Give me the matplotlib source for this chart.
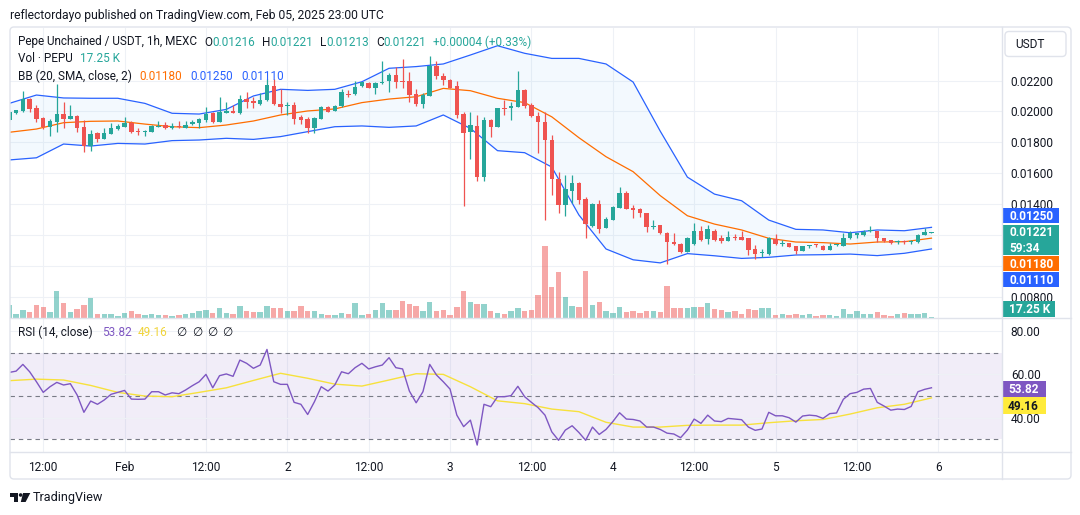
import numpy as np
import pandas as pd
import matplotlib
matplotlib.use("Agg")
import matplotlib.pyplot as plt
from matplotlib.patches import Rectangle, FancyBboxPatch, Polygon, Circle
from matplotlib.transforms import IdentityTransform
from matplotlib.lines import Line2D

plt.rcParams['font.family'] = ['Roboto', 'DejaVu Sans']

# ---------------- data (PEPU/USDT 1h, MEXC) ----------------
start_time = "2025-01-31 07:00"

opens = [0.01944, 0.01988, 0.02005, 0.02078, 0.02020, 0.01955, 0.01901, 0.01934, 0.01983, 0.01951,
         0.01970, 0.01897, 0.01776, 0.01858, 0.01821, 0.01854, 0.01886, 0.01901, 0.01927, 0.01873,
         0.01867, 0.01869, 0.01903, 0.01910, 0.01890, 0.01903, 0.01895, 0.01916, 0.01927, 0.01944,
         0.01992, 0.01934, 0.01992, 0.02005, 0.01988, 0.02080, 0.02069, 0.02048, 0.02074, 0.02167,
         0.02048, 0.02039, 0.02041, 0.01962, 0.01951, 0.01890, 0.01951, 0.02026, 0.02005, 0.02037,
         0.02113, 0.02110, 0.02166, 0.02186, 0.02154, 0.02184, 0.02197, 0.02235, 0.02197, 0.02197,
         0.02113, 0.02048, 0.02102, 0.02294, 0.02231, 0.02203, 0.02164, 0.01983, 0.01869, 0.01906,
         0.01578, 0.01944, 0.01901, 0.02020, 0.02020, 0.02031, 0.02138, 0.02041, 0.01970, 0.01934,
         0.01815, 0.01560, 0.01394, 0.01487, 0.01539, 0.01432, 0.01260, 0.01400, 0.01248, 0.01300,
         0.01375, 0.01472, 0.01373, 0.01367, 0.01340, 0.01251, 0.01265, 0.01216, 0.01154, 0.01142,
         0.01093, 0.01140, 0.01228, 0.01172, 0.01228, 0.01183, 0.01164, 0.01187, 0.01190, 0.01179,
         0.01110, 0.01084, 0.01077, 0.01175, 0.01144, 0.01146, 0.01129, 0.01097, 0.01131, 0.01138,
         0.01132, 0.01103, 0.01134, 0.01131, 0.01179, 0.01205, 0.01200, 0.01226, 0.01226, 0.01179,
         0.01168, 0.01155, 0.01159, 0.01155, 0.01153, 0.01200, 0.01216]

highs = [0.02005, 0.02012, 0.02132, 0.02085, 0.02041, 0.01962, 0.01951, 0.02175, 0.02063, 0.02041,
         0.01977, 0.01944, 0.01880, 0.01869, 0.01890, 0.01927, 0.01918, 0.01962, 0.01940, 0.01890,
         0.01880, 0.01912, 0.01938, 0.01934, 0.01923, 0.01938, 0.01938, 0.01944, 0.01955, 0.02031,
         0.01998, 0.02095, 0.02063, 0.02041, 0.02106, 0.02123, 0.02091, 0.02117, 0.02207, 0.02207,
         0.02143, 0.02063, 0.02063, 0.01977, 0.01962, 0.01966, 0.02035, 0.02035, 0.02041, 0.02145,
         0.02138, 0.02199, 0.02192, 0.02190, 0.02190, 0.02326, 0.02251, 0.02290, 0.02339, 0.02257,
         0.02143, 0.02117, 0.02358, 0.02328, 0.02251, 0.02207, 0.02197, 0.01998, 0.01998, 0.01977,
         0.01962, 0.01950, 0.02024, 0.02074, 0.02063, 0.02261, 0.02145, 0.02052, 0.01998, 0.01998,
         0.01847, 0.01610, 0.01590, 0.01589, 0.01545, 0.01444, 0.01405, 0.01427, 0.01320, 0.01388,
         0.01511, 0.01482, 0.01394, 0.01373, 0.01345, 0.01297, 0.01268, 0.01219, 0.01211, 0.01146,
         0.01190, 0.01276, 0.01259, 0.01265, 0.01237, 0.01200, 0.01226, 0.01205, 0.01226, 0.01183,
         0.01136, 0.01108, 0.01190, 0.01205, 0.01168, 0.01149, 0.01131, 0.01131, 0.01136, 0.01144,
         0.01134, 0.01146, 0.01142, 0.01211, 0.01226, 0.01216, 0.01233, 0.01261, 0.01229, 0.01183,
         0.01170, 0.01166, 0.01166, 0.01168, 0.01207, 0.01244, 0.01221]

lows = [0.01940, 0.01985, 0.01998, 0.01994, 0.01934, 0.01886, 0.01841, 0.01869, 0.01890, 0.01949,
        0.01869, 0.01740, 0.01746, 0.01800, 0.01819, 0.01852, 0.01880, 0.01900, 0.01862, 0.01847,
        0.01841, 0.01866, 0.01901, 0.01886, 0.01886, 0.01895, 0.01890, 0.01912, 0.01890, 0.01934,
        0.01927, 0.01934, 0.01988, 0.01988, 0.01983, 0.02020, 0.02020, 0.02041, 0.02069, 0.02041,
        0.01992, 0.01977, 0.01918, 0.01918, 0.01862, 0.01862, 0.01949, 0.01994, 0.02001, 0.02031,
        0.02095, 0.02106, 0.02160, 0.02150, 0.02110, 0.02180, 0.02128, 0.02149, 0.02149, 0.02063,
        0.02035, 0.02024, 0.02100, 0.02207, 0.02171, 0.02150, 0.01959, 0.01390, 0.01692, 0.01552,
        0.01552, 0.01832, 0.01897, 0.01977, 0.01944, 0.02028, 0.02024, 0.01962, 0.01729, 0.01297,
        0.01459, 0.01340, 0.01325, 0.01405, 0.01402, 0.01183, 0.01255, 0.01211, 0.01243, 0.01295,
        0.01372, 0.01367, 0.01308, 0.01320, 0.01222, 0.01241, 0.01205, 0.01013, 0.01133, 0.01082,
        0.01088, 0.01136, 0.01160, 0.01140, 0.01163, 0.01146, 0.01162, 0.01168, 0.01166, 0.01071,
        0.01045, 0.01060, 0.01071, 0.01136, 0.01131, 0.01121, 0.01077, 0.01095, 0.01114, 0.01125,
        0.01101, 0.01101, 0.01131, 0.01129, 0.01175, 0.01183, 0.01196, 0.01222, 0.01157, 0.01157,
        0.01144, 0.01142, 0.01144, 0.01144, 0.01149, 0.01198, 0.01213]

closes = [0.01998, 0.02009, 0.02078, 0.02016, 0.01953, 0.01901, 0.01938, 0.01983, 0.01953, 0.01970,
          0.01895, 0.01776, 0.01854, 0.01821, 0.01862, 0.01890, 0.01908, 0.01927, 0.01869, 0.01869,
          0.01871, 0.01908, 0.01906, 0.01890, 0.01906, 0.01899, 0.01912, 0.01934, 0.01949, 0.01983,
          0.01934, 0.01998, 0.02005, 0.01992, 0.02080, 0.02059, 0.02052, 0.02074, 0.02171, 0.02046,
          0.02031, 0.02043, 0.01951, 0.01944, 0.01890, 0.01955, 0.02026, 0.01998, 0.02037, 0.02123,
          0.02108, 0.02160, 0.02188, 0.02154, 0.02186, 0.02188, 0.02235, 0.02192, 0.02192, 0.02106,
          0.02048, 0.02106, 0.02294, 0.02231, 0.02203, 0.02154, 0.01977, 0.01862, 0.01912, 0.01578,
          0.01944, 0.01897, 0.02020, 0.02016, 0.02035, 0.02138, 0.02037, 0.01970, 0.01934, 0.01815,
          0.01560, 0.01394, 0.01497, 0.01539, 0.01427, 0.01269, 0.01400, 0.01241, 0.01304, 0.01381,
          0.01472, 0.01371, 0.01362, 0.01340, 0.01250, 0.01255, 0.01213, 0.01152, 0.01139, 0.01093,
          0.01183, 0.01228, 0.01170, 0.01236, 0.01168, 0.01164, 0.01190, 0.01183, 0.01168, 0.01103,
          0.01077, 0.01088, 0.01179, 0.01140, 0.01148, 0.01125, 0.01097, 0.01129, 0.01134, 0.01134,
          0.01103, 0.01132, 0.01138, 0.01179, 0.01211, 0.01209, 0.01222, 0.01229, 0.01179, 0.01162,
          0.01146, 0.01159, 0.01155, 0.01159, 0.01200, 0.01217, 0.01221]

volumes_k = [160, 48, 100, 68, 160, 128, 76, 328, 176, 68,
             112, 160, 236, 48, 48, 48, 28, 60, 88, 48,
             40, 48, 40, 40, 28, 40, 48, 56, 88, 96,
             60, 116, 60, 48, 144, 88, 68, 68, 144, 120,
             120, 80, 80, 144, 88, 80, 48, 40, 40, 64,
             48, 180, 40, 48, 96, 176, 96, 96, 208, 168,
             148, 80, 196, 80, 96, 40, 136, 328, 196, 168,
             168, 88, 64, 48, 80, 116, 80, 96, 280, 868,
             376, 548, 248, 148, 128, 568, 160, 188, 80, 56,
             136, 68, 80, 56, 84, 84, 72, 384, 120, 120,
             120, 132, 132, 180, 108, 96, 72, 84, 48, 108,
             96, 120, 120, 36, 48, 36, 48, 36, 48, 24,
             36, 36, 24, 108, 48, 84, 48, 48, 72, 36,
             24, 48, 60, 48, 48, 60, 17.25]

rsi_values = [60.9, 61.5, 64.6, 61.2, 56.6, 51.7, 54.3, 56.3, 55.1, 55.7,
              50.5, 42.5, 47.7, 46.2, 48.2, 50.8, 51.7, 52.6, 48.6, 48.5,
              48.6, 52.0, 52.0, 50.5, 51.5, 51.1, 52.8, 54.8, 56.6, 60.0,
              53.8, 59.4, 60.2, 59.1, 66.6, 65.1, 62.8, 64.3, 71.5, 56.6,
              55.4, 55.4, 47.1, 46.2, 41.5, 47.4, 54.3, 52.3, 55.1, 61.2,
              60.3, 63.1, 65.1, 62.5, 63.5, 64.3, 67.7, 63.1, 62.5, 52.3,
              46.9, 52.0, 64.6, 59.7, 56.6, 53.2, 41.2, 35.9, 38.9, 27.4,
              46.2, 45.1, 49.7, 49.7, 50.2, 54.5, 49.7, 47.1, 44.6, 41.2,
              33.5, 29.6, 34.3, 36.3, 33.2, 29.6, 35.7, 32.3, 34.6, 38.2,
              42.3, 39.4, 39.2, 38.5, 35.7, 35.7, 34.6, 32.9, 32.5, 30.8,
              34.3, 39.4, 37.4, 41.2, 38.5, 38.2, 39.7, 39.4, 39.1, 35.7,
              34.2, 34.8, 42.5, 40.9, 40.9, 40.0, 38.0, 40.8, 41.2, 40.9,
              39.7, 41.9, 42.2, 48.5, 51.1, 51.7, 53.2, 53.5, 47.1, 45.4,
              43.5, 44.0, 43.8, 45.2, 52.0, 53.1, 53.82]

# indicator lines read every 4th bar
band_step = 4
bb_upper = [0.02052, 0.02106, 0.02087, 0.02085, 0.02085, 0.02052, 0.01988, 0.01983, 0.02013, 0.02100,
            0.02143, 0.02136, 0.02143, 0.02192, 0.02279, 0.02290, 0.02307, 0.02365, 0.02425, 0.02376,
            0.02343, 0.02343, 0.02307, 0.02190, 0.01872, 0.01575, 0.01465, 0.01422, 0.01297, 0.01237,
            0.01233, 0.01215, 0.01233, 0.01228, 0.01250]
bb_basis = [0.01865, 0.01886, 0.01927, 0.01936, 0.01938, 0.01918, 0.01901, 0.01895, 0.01912, 0.01938,
            0.01977, 0.02003, 0.02016, 0.02057, 0.02080, 0.02095, 0.02149, 0.02134, 0.02085, 0.02057,
            0.01965, 0.01830, 0.01707, 0.01610, 0.01455, 0.01325, 0.01271, 0.01233, 0.01179, 0.01155,
            0.01151, 0.01142, 0.01155, 0.01157, 0.01180]
bb_lower = [0.01686, 0.01700, 0.01789, 0.01776, 0.01793, 0.01789, 0.01811, 0.01815, 0.01826, 0.01819,
            0.01837, 0.01869, 0.01901, 0.01906, 0.01897, 0.01906, 0.01977, 0.01890, 0.01746, 0.01733,
            0.01640, 0.01330, 0.01110, 0.01040, 0.01020, 0.01080, 0.01066, 0.01049, 0.01056, 0.01071,
            0.01073, 0.01077, 0.01067, 0.01082, 0.01110]
rsi_ma = [57.1, 57.8, 57.4, 54.9, 51.7, 50.0, 49.7, 51.7, 53.8, 57.2,
          60.5, 58.2, 55.5, 54.6, 57.4, 60.3, 60.0, 54.3, 47.8, 46.5,
          44.0, 42.8, 37.9, 35.7, 35.7, 36.5, 36.6, 36.6, 37.7, 38.6,
          39.2, 41.7, 44.6, 46.2, 49.16]

price_ticks = [0.008, 0.014, 0.016, 0.018, 0.020, 0.022]
grid_prices = [0.008, 0.010, 0.012, 0.014, 0.016, 0.018, 0.020, 0.022]
rsi_ticks = [40, 60, 80]
time_ticks = ["2025-01-31 12:00", "2025-02-01 00:00", "2025-02-01 12:00", "2025-02-02 00:00",
              "2025-02-02 12:00", "2025-02-03 00:00", "2025-02-03 12:00", "2025-02-04 00:00",
              "2025-02-04 12:00", "2025-02-05 00:00", "2025-02-05 12:00", "2025-02-06 00:00"]
time_labels = ["12:00", "Feb", "12:00", "2", "12:00", "3", "12:00", "4", "12:00", "5", "12:00", "6"]

# ---------------- style ----------------
TXT = '#131722'
GREEN = '#26a69a'
RED = '#ef5350'
BLUE = '#2962ff'
ORANGE = '#ff6d00'
PURPLE = '#7e57c2'
YELLOW = '#f7e13c'
GRID = '#eef1f6'
BORDER = '#e0e3eb'

W, H = 1080, 515
fig = plt.figure(figsize=(W / 100, H / 100), dpi=100, facecolor='white')
ID = IdentityTransform()
renderer = fig.canvas.get_renderer()

times = pd.date_range(start_time, periods=len(closes), freq="h")
t0 = pd.Timestamp("2025-02-01 00:00")
hrs = ((times - t0) / pd.Timedelta(hours=1)).to_numpy(dtype=float)
band_hrs = hrs[::band_step]
tick_hrs = [(pd.Timestamp(t) - t0) / pd.Timedelta(hours=1) for t in time_ticks]

XL = (-16.9, 129.4)
PY = (0.006634, 0.025397)
RY = (24.2, 86.0)


def rect(y_top, y_bot, x0=10, x1=1002):
    return [x0 / W, 1 - y_bot / H, (x1 - x0) / W, (y_bot - y_top) / H]


axg = fig.add_axes(rect(28, 318))
axv = fig.add_axes(rect(28, 318))
ax = fig.add_axes(rect(28, 318))
axr = fig.add_axes(rect(318, 452))
for a in (axg, axv, ax, axr):
    a.set_xlim(*XL)
    for s in a.spines.values():
        s.set_visible(False)
    a.set_facecolor('none')
axg.set_ylim(*PY)
ax.set_ylim(*PY)
axr.set_ylim(*RY)
axv.set_ylim(0, 3480)
axg.axis('off')
axv.axis('off')

for p in grid_prices:
    axg.axhline(p, color=GRID, lw=0.8)
for th in tick_hrs:
    axg.axvline(th, color=GRID, lw=0.8)
    axr.axvline(th, color=GRID, lw=0.8, zorder=0)

o = np.array(opens); hi = np.array(highs); lo = np.array(lows); c = np.array(closes)
up = c >= o
cols = np.where(up, GREEN, RED)

# volume
axv.bar(hrs, volumes_k, width=0.8, color=cols, alpha=0.5, lw=0)

# Bollinger bands
ax.fill_between(band_hrs, bb_lower, bb_upper, color='#2196f3', alpha=0.05, lw=0, zorder=1)
ax.plot(band_hrs, bb_upper, color=BLUE, lw=0.9, zorder=2)
ax.plot(band_hrs, bb_lower, color=BLUE, lw=0.9, zorder=2)
ax.plot(band_hrs, bb_basis, color=ORANGE, lw=0.9, zorder=2)

# candles
ax.vlines(hrs, lo, hi, colors=cols, lw=0.9, zorder=3)
hmin = 0.00007
body_h = np.maximum(np.abs(c - o), hmin)
body_lo = np.where(np.abs(c - o) < hmin, (o + c) / 2 - hmin / 2, np.minimum(o, c))
ax.bar(hrs, body_h, bottom=body_lo, width=0.66, color=cols, lw=0, zorder=4)


def fit_size(s, target_w, weight='normal'):
    t = fig.text(0, 0, s, fontsize=10, weight=weight)
    w = t.get_window_extent(renderer).width
    t.remove()
    return 10 * target_w / w


AX_FS = fit_size("0.02200", 42.7)
LEG_FS = fit_size("Pepe Unchained / USDT, 1h, MEXC", 180)
TITLE_FS = fit_size("reflectordayo published on TradingView.com, Feb 05, 2025 23:00 UTC", 374)

ax.yaxis.tick_right()
ax.set_yticks(price_ticks)
ax.set_yticklabels([f"{p:.5f}" for p in price_ticks])
ax.tick_params(axis='y', length=0, pad=6.3, labelsize=AX_FS, labelcolor=TXT)
ax.tick_params(axis='x', bottom=False, labelbottom=False)

# RSI panel
axr.axhspan(30, 70, color=PURPLE, alpha=0.1, lw=0, zorder=0)
for v in rsi_ticks:
    axr.axhline(v, color=GRID, lw=0.8, zorder=0.5)
for v in (70, 50, 30):
    axr.axhline(v, color='#787b86', lw=0.8, ls=(0, (4, 3.5)), zorder=1)
axr.plot(hrs, rsi_values, color=PURPLE, lw=1.0, zorder=3)
axr.plot(band_hrs, rsi_ma, color=YELLOW, lw=1.0, zorder=2)
axr.yaxis.tick_right()
axr.set_yticks(rsi_ticks)
axr.set_yticklabels([f"{v:.2f}" for v in rsi_ticks])
axr.tick_params(axis='y', length=0, pad=6.3, labelsize=AX_FS, labelcolor=TXT)
axr.set_xticks(tick_hrs)
axr.set_xticklabels(time_labels)
axr.tick_params(axis='x', length=0, pad=6.5, labelsize=AX_FS, labelcolor=TXT)


# ---------------- frame ----------------
def hline(x0, x1, y, color=BORDER, lw=1.0):
    fig.add_artist(Line2D([x0, x1], [H - y, H - y], color=color, lw=lw, transform=ID))


def vline(x, y0, y1, color=BORDER, lw=1.0):
    fig.add_artist(Line2D([x, x], [H - y0, H - y1], color=color, lw=lw, transform=ID))


fig.add_artist(FancyBboxPatch((10, H - 479), 1061, 452, boxstyle="round,pad=0,rounding_size=4",
                              ec=BORDER, fc='none', lw=1.0, transform=ID))
vline(1002, 27, 479)
hline(10, 1071, 318)
hline(10, 1071, 452)


def ftext(x, y, s, **kw):
    kw.setdefault('va', 'center')
    kw.setdefault('ha', 'left')
    return fig.text(x, H - y, s, transform=ID, **kw)


def label_box(y0, y1, color, lines, tcolor='white', x0=1003, x1=1059):
    fig.add_artist(Rectangle((x0, H - y1), x1 - x0, y1 - y0, fc=color, ec='none', transform=ID))
    n = len(lines)
    step = (y1 - y0) / n
    for k, s in enumerate(lines):
        ftext(x0 + 6, y0 + step * (k + 0.5) + 0.5, s, color=tcolor, fontsize=AX_FS, weight='bold')


# USDT box
fig.add_artist(FancyBboxPatch((1005, H - 56.5), 61, 25, boxstyle="round,pad=0,rounding_size=4",
                              ec=BORDER, fc='white', lw=1.0, transform=ID))
ftext(1015, 44.5, "USDT", color=TXT, fontsize=AX_FS)

last_close = closes[-1]
label_box(208, 223, BLUE, [f"{bb_upper[-1]:.5f}"])
label_box(225, 255, GREEN, [f"{last_close:.5f}", "59:34"])
label_box(256, 271, ORANGE, [f"{bb_basis[-1]:.5f}"])
label_box(272, 287, BLUE, [f"{bb_lower[-1]:.5f}"])
label_box(301, 317, GREEN, [f"{volumes_k[-1]:.2f} K"], x1=1055)
label_box(381, 397, PURPLE, [f"{rsi_values[-1]:.2f}"], x0=1002, x1=1046)
label_box(397, 414, '#ffeb3b', [f"{rsi_ma[-1]:.2f}"], tcolor=TXT, x0=1002, x1=1046)

# ---------------- header / legends ----------------
ftext(10, 15, "reflectordayo published on TradingView.com, Feb 05, 2025 23:00 UTC", color=TXT, fontsize=TITLE_FS)


def seq(x, y, parts, fs, gap=0.0):
    for s, col, g in parts:
        t = ftext(x, y, s, color=col, fontsize=fs)
        x += t.get_window_extent(renderer).width + g
    return x


chg = closes[-1] - closes[-2]
leg1 = [("Pepe Unchained / USDT, 1h, MEXC", TXT, 7),
        ("O", TXT, 0), (f"{opens[-1]:.5f}", GREEN, 7),
        ("H", TXT, 0), (f"{highs[-1]:.5f}", GREEN, 7),
        ("L", TXT, 0), (f"{lows[-1]:.5f}", GREEN, 7),
        ("C", TXT, 0), (f"{closes[-1]:.5f}", GREEN, 7),
        (f"+{chg:.5f} (+{chg / closes[-2] * 100:.2f}%)", GREEN, 0)]
seq(18, 42, leg1, LEG_FS)

seq(18, 59, [("Vol · PEPU", TXT, 7), (f"{volumes_k[-1]:.2f} K", GREEN, 0)], LEG_FS)
seq(18, 76, [("BB (20, SMA, close, 2)", TXT, 8), (f"{bb_basis[-1]:.5f}", ORANGE, 8),
             (f"{bb_upper[-1]:.5f}", BLUE, 8), (f"{bb_lower[-1]:.5f}", BLUE, 0)], LEG_FS)

ftext(18, 332, "RSI (14, close)", color=TXT, fontsize=LEG_FS)
ftext(102, 332, f"{rsi_values[-1]:.2f}", color=PURPLE, fontsize=LEG_FS)
ftext(138, 332, f"{rsi_ma[-1]:.2f}", color='#f0d43a', fontsize=LEG_FS)
for xx in (176, 192, 207, 222):
    ftext(xx, 332, "∅", color=TXT, fontsize=LEG_FS, family=['DejaVu Sans'])

# ---------------- footer logo ----------------
logo_col = '#131722'
fig.add_artist(Rectangle((10, H - 496.5), 7.5, 3.5, fc=logo_col, ec='none', transform=ID))
fig.add_artist(Rectangle((13.8, H - 502), 3.7, 9, fc=logo_col, ec='none', transform=ID))
fig.add_artist(Circle((20.6, H - 495), 1.8, fc=logo_col, ec='none', transform=ID))
fig.add_artist(Polygon([(23.0, H - 493), (30.3, H - 493), (25.6, H - 502), (20.8, H - 502)],
                       closed=True, fc=logo_col, ec='none', transform=ID))
TV_FS = fit_size("TradingView", 70)
ftext(33, 497.5, "TradingView", color=TXT, fontsize=TV_FS)

fig.savefig("out.png", dpi=100, facecolor='white')
